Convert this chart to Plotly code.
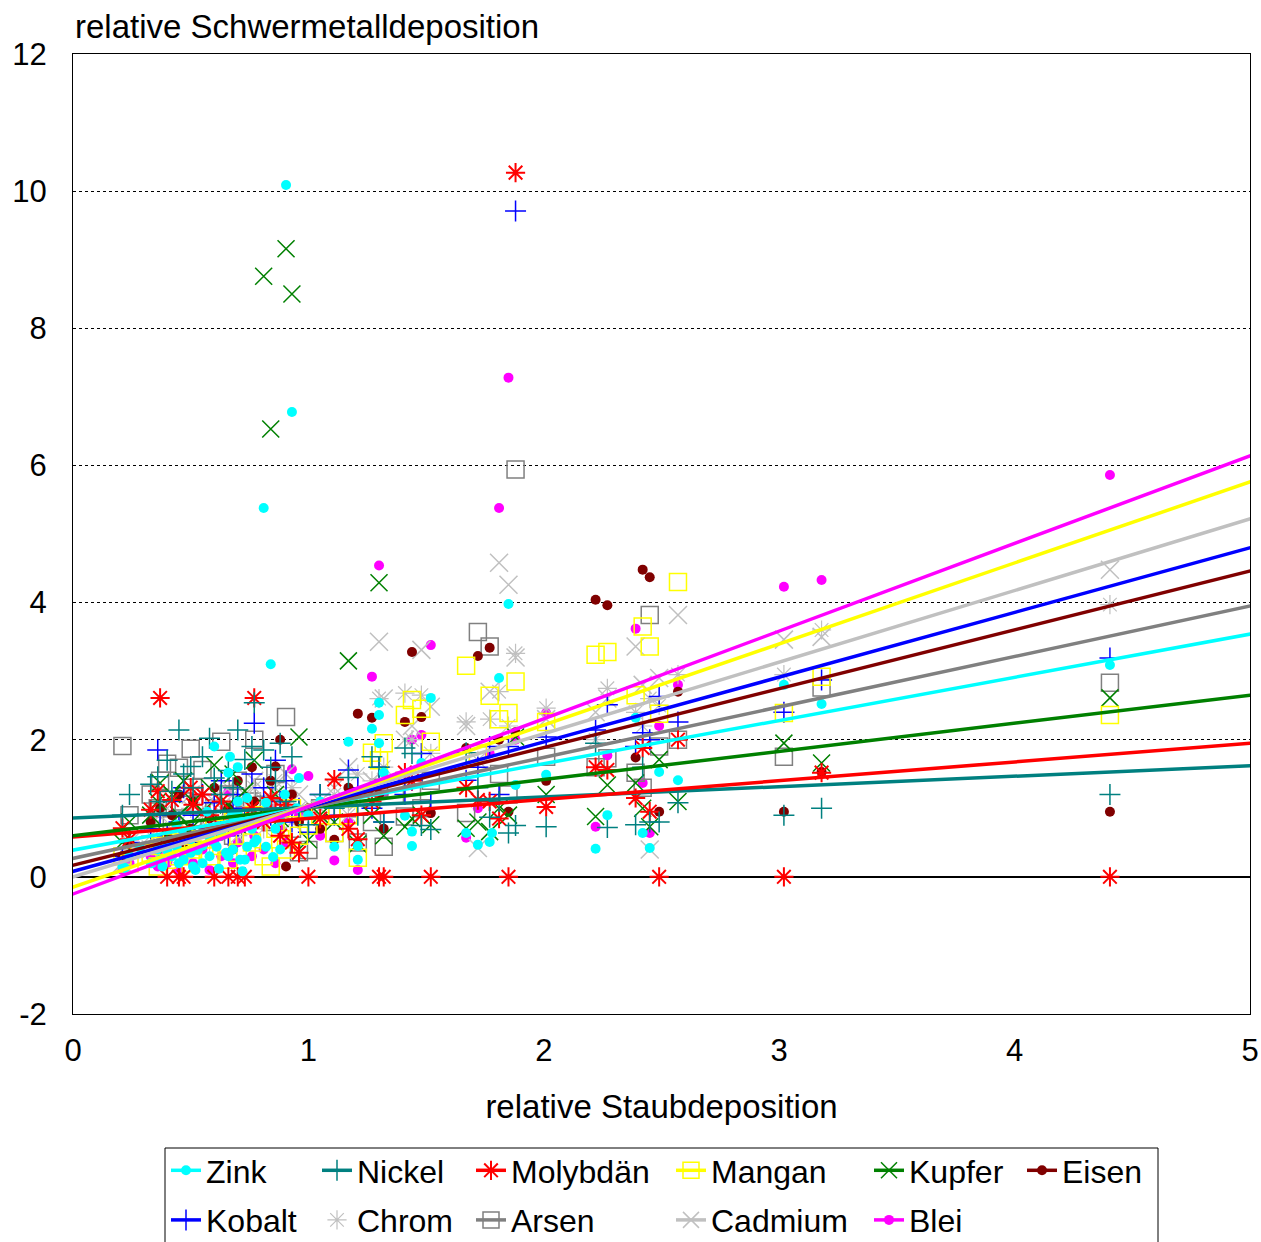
import plotly.graph_objects as go

# ---------------- data ----------------
dust = [0.21, 0.24, 0.33, 0.36, 0.37, 0.40, 0.42, 0.45, 0.47, 0.50,
        0.51, 0.55, 0.58, 0.60, 0.63, 0.66, 0.68, 0.70, 0.73, 0.76,
        0.77, 0.81, 0.84, 0.86, 0.88, 0.905, 0.93, 0.96, 1.00, 1.05,
        1.11, 1.17, 1.21, 1.27, 1.30, 1.32, 1.41, 1.44, 1.48, 1.52,
        1.67, 1.72, 1.77, 1.81, 1.85, 1.88, 2.01, 2.22, 2.27, 2.39,
        2.42, 2.45, 2.49, 2.57, 3.02, 3.18, 4.405]

zink = [0.15, 0.3, 0.2, 0.4, 0.25, 0.5, 0.3, 0.2, 0.6, 0.35,
        0.15, 0.45, 0.3, 0.5, 0.6, 0.3, 0.4, 0.9, 0.25, 0.8,
        0.5, 5.38, 3.1, 0.7, 0.4, 10.09, 6.78, 1.44, 0.9, 1.1,
        0.44, 1.97, 0.45, 2.16, 2.54, 1.52, 0.89, 0.66, 1.66, 2.61,
        0.64, 0.47, 0.51, 2.9, 3.98, 1.34, 1.49, 0.41, 0.9, 2.32,
        0.64, 0.42, 1.53, 1.41, 2.8, 2.52, 3.09]
zink_extra_x = [0.60, 0.667, 0.70, 0.66, 0.74, 0.70, 0.82, 0.88, 0.675, 0.68,
                0.44, 0.40, 0.44, 0.47, 0.53, 0.55, 0.38, 0.61, 0.65, 0.71,
                0.74, 0.78, 0.82, 0.85, 0.285, 0.22, 0.335, 0.63, 0.58, 0.50,
                0.57, 0.76, 0.90, 0.95, 1.30, 1.30, 1.44, 1.21, 1.78, 0.52,
                0.62, 0.72]
zink_extra_y = [1.9, 1.75, 1.6, 1.52, 1.15, 1.1, 1.08, 0.83, 0.9, 0.79,
                0.76, 0.39, 0.44, 0.25, 0.39, 0.2, 0.15, 0.44, 0.35, 0.25,
                0.44, 0.54, 0.44, 0.29, 0.42, 0.13, 0.2, 0.64, 0.58, 0.55,
                0.95, 0.7, 1.2, 1.0, 2.36, 1.95, 0.45, 0.25, 0.64, 0.1,
                0.12, 0.08]

nickel = [0.9, 1.2, 1.35, 1.46, 1.1, 1.7, 1.25, 2.14, 1.5, 1.61,
          1.3, 1.75, 2.02, 1.44, 1.2, 1.55, 1.3, 2.14, 1.71, 1.9,
          2.54, 1.85, 1.6, 1.4, 1.95, 1.1, 1.75, 0.95, 0.76, 1.2,
          1.0, 1.45, 0.9, 1.75, 1.6, 0.8, 1.88, 1.8, 0.75, 0.69,
          1.81, 1.3, 0.87, 1.1, 0.64, 0.75, 0.73, 1.95, 0.72, 0.76,
          1.6, 0.8, 0.8, 1.08, 0.9, 1.0, 1.2]

molybdaen = [0.71, 0.55, 0.98, 1.25, 2.61, 0.0, 1.12, 0.0, 0.0, 1.3,
             1.05, 1.2, 0.9, 0.0, 1.1, 0.0, 0.85, 0.0, 0.0, 1.0,
             2.61, 0.8, 1.15, 0.95, 0.6, 1.05, 0.5, 0.35, 0.0, 0.85,
             1.42, 0.7, 0.55, 1.1, 0.0, 0.0, 1.52, 1.4, 0.9, 0.0,
             1.3, 1.12, 1.1, 0.85, 0.0, 10.27, 1.02, 1.6, 1.56, 1.15,
             1.88, 0.95, 0.0, 2.0, 0.0, 1.52, 0.0]

mangan = [0.3, 0.2, 0.35, 0.15, 0.45, 0.25, 0.5, 0.3, 0.6, 0.2,
          0.4, 0.55, 0.3, 0.7, 0.45, 0.25, 0.8, 0.35, 0.6, 0.5,
          0.9, 0.3, 0.15, 0.7, 0.55, 0.4, 1.0, 0.6, 0.75, 0.9,
          0.64, 0.9, 0.28, 1.81, 1.7, 1.95, 2.36, 2.58, 2.45, 1.97,
          3.08, 1.8, 2.64, 2.3, 2.39, 2.85, 2.26, 3.24, 3.28, 2.65,
          3.65, 3.36, 2.38, 4.3, 2.39, 2.92, 2.36]

kupfer = [0.5, 0.8, 0.9, 1.1, 1.37, 0.6, 1.2, 0.9, 1.4, 0.7,
          1.1, 0.95, 1.3, 1.63, 0.8, 1.05, 1.5, 0.75, 1.25, 1.0,
          1.7, 8.76, 6.53, 1.2, 0.85, 9.16, 8.5, 2.04, 0.54, 0.9,
          0.8, 3.15, 0.48, 0.9, 4.29, 0.6, 0.73, 0.85, 0.9, 0.76,
          0.71, 0.8, 0.66, 1.0, 0.9, 2.04, 1.2, 0.88, 1.34, 1.37,
          1.0, 0.73, 1.71, 1.1, 1.95, 1.66, 2.61]

eisen = [0.3, 0.5, 0.8, 0.4, 1.0, 0.6, 0.9, 1.2, 0.5, 0.7,
         1.1, 0.45, 0.85, 1.3, 0.6, 1.0, 0.4, 1.4, 0.75, 1.6,
         1.1, 0.9, 1.4, 1.61, 2.0, 0.15, 1.2, 0.8, 1.0, 0.7,
         0.54, 1.3, 2.38, 2.32, 1.2, 0.7, 2.26, 3.28, 2.33, 0.93,
         1.88, 3.22, 3.34, 2.0, 0.95, 2.11, 1.4, 4.04, 3.96, 1.74,
         4.48, 4.37, 0.95, 2.7, 0.95, 1.53, 0.95]

kobalt = [0.3, 0.5, 0.7, 1.85, 0.9, 0.6, 1.1, 0.8, 1.3, 0.5,
          0.9, 1.2, 0.7, 1.08, 1.4, 0.6, 1.0, 1.2, 0.8, 1.5,
          2.24, 1.3, 0.9, 1.7, 1.1, 1.4, 0.8, 1.0, 0.65, 1.2,
          0.9, 1.56, 1.3, 1.0, 1.6, 0.8, 1.2, 1.41, 1.8, 1.1,
          1.41, 1.6, 1.9, 1.2, 1.9, 9.71, 2.04, 2.14, 2.51, 1.9,
          2.1, 2.0, 2.63, 2.26, 2.4, 2.87, 3.19]

chrom = [0.2, 0.4, 0.6, 0.5, 0.9, 0.3, 0.7, 0.8, 0.4, 1.0,
         0.6, 0.9, 0.5, 1.1, 0.7, 0.8, 1.2, 0.6, 1.0, 0.9,
         1.3, 0.7, 1.1, 1.4, 0.8, 1.2, 1.3, 1.0, 0.9, 1.1,
         1.2, 0.9, 1.5, 1.4, 2.6, 1.6, 2.68, 2.0, 2.65, 1.8,
         2.26, 1.7, 2.3, 2.7, 2.2, 3.26, 2.46, 2.0, 2.75, 2.4,
         2.2, 2.6, 2.5, 2.95, 2.95, 3.6, 3.97]

arsen = [1.91, 0.9, 1.2, 1.0, 1.4, 1.65, 0.8, 1.59, 1.1, 1.87,
         1.3, 1.56, 0.7, 1.0, 1.97, 1.2, 0.6, 1.4, 0.9, 1.1,
         2.0, 1.3, 0.8, 1.5, 1.0, 2.33, 0.7, 0.36, 0.39, 1.0,
         0.64, 1.0, 0.5, 0.8, 1.3, 0.44, 0.88, 1.2, 1.0, 1.4,
         0.93, 3.57, 3.36, 1.5, 1.2, 5.94, 1.75, 1.6, 1.73, 1.52,
         1.3, 3.82, 1.9, 2.0, 1.75, 2.76, 2.83]

cadmium = [0.2, 0.5, 0.4, 0.8, 0.6, 1.0, 0.5, 0.9, 0.7, 1.2,
           0.6, 0.8, 1.1, 0.9, 0.7, 1.3, 0.8, 1.0, 1.2, 0.9,
           1.4, 1.1, 1.0, 1.3, 1.1, 1.5, 0.8, 1.2, 0.9, 1.0,
           1.3, 1.6, 1.1, 1.4, 3.43, 2.6, 2.0, 2.2, 3.31, 2.48,
           2.2, 0.42, 2.7, 4.58, 4.26, 3.2, 2.3, 2.4, 2.6, 3.36,
           2.8, 0.4, 2.9, 3.82, 3.46, 3.5, 4.48]

blei = [0.1, 0.2, 0.3, 0.15, 0.4, 0.2, 0.5, 0.1, 0.3, 0.6,
        0.2, 0.4, 0.1, 0.7, 0.3, 1.24, 0.2, 0.5, 0.8, 0.3,
        0.6, 0.4, 1.0, 0.2, 0.7, 0.5, 1.57, 0.9, 1.47, 0.6,
        0.24, 0.8, 0.1, 2.92, 4.54, 1.2, 1.5, 2.0, 2.07, 3.38,
        0.57, 1.0, 1.8, 5.38, 7.28, 2.0, 2.39, 0.73, 1.77, 3.62,
        1.37, 0.64, 2.2, 2.8, 4.23, 4.33, 5.86]

metals = ["Zink", "Nickel", "Molybdän", "Mangan", "Kupfer", "Eisen",
          "Kobalt", "Chrom", "Arsen", "Cadmium", "Blei"]
values = [zink, nickel, molybdaen, mangan, kupfer, eisen,
          kobalt, chrom, arsen, cadmium, blei]
# linear trend lines, value at dust = 0 and dust = 5 (Chrom has none)
trend_at_0 = [0.39, 0.86, 0.58, -0.15, 0.60, 0.17, 0.08, None, 0.27, 0.00, -0.25]
trend_at_5 = [3.54, 1.62, 1.95, 5.76, 2.65, 4.46, 4.80, None, 3.95, 5.22, 6.14]

y_tickvals = [-2, 0, 2, 4, 6, 8, 10, 12]
y_ticktext = ["-2", "0", "2", "4", "6", "8", "10", "12"]

# ---------------- styles ----------------
colors = {"Zink": "#00FFFF", "Nickel": "#008080", "Molybdän": "#FF0000",
          "Mangan": "#FFFF00", "Kupfer": "#008000", "Eisen": "#800000",
          "Kobalt": "#0000FF", "Chrom": "#C0C0C0", "Arsen": "#808080",
          "Cadmium": "#C0C0C0", "Blei": "#FF00FF"}
symbols = {"Zink": ("circle", 10, 0), "Nickel": ("cross-thin-open", 15, 1.5),
           "Molybdän": ("asterisk-open", 16, 2), "Mangan": ("square-open", 17, 1.5),
           "Kupfer": ("x-thin-open", 17, 1.5), "Eisen": ("circle", 10, 0),
           "Kobalt": ("cross-thin-open", 15, 1.5), "Chrom": ("asterisk-open", 16, 1.2),
           "Arsen": ("square-open", 17, 1.5), "Cadmium": ("x-thin-open", 18, 1.5),
           "Blei": ("circle", 10, 0)}
legend_of = {"Zink": "legend", "Kobalt": "legend", "Nickel": "legend2", "Chrom": "legend2",
             "Molybdän": "legend3", "Arsen": "legend3", "Mangan": "legend4",
             "Cadmium": "legend4", "Kupfer": "legend5", "Blei": "legend5", "Eisen": "legend6"}
legend_rank = {"Zink": 1, "Kobalt": 2, "Nickel": 1, "Chrom": 2, "Molybdän": 1, "Arsen": 2,
               "Mangan": 1, "Cadmium": 2, "Kupfer": 1, "Blei": 2, "Eisen": 1}

FONT = "Liberation Sans, Arial, sans-serif"


def marker_for(name):
    sym, size, lw = symbols[name]
    c = colors[name]
    return dict(symbol=sym, size=size, color=c, line=dict(width=lw, color=c))


fig = go.Figure()

# scatter points (Zink drawn last so it sits on top as in the original)
draw_order = ["Blei", "Cadmium", "Arsen", "Chrom", "Kobalt", "Eisen", "Kupfer",
              "Mangan", "Molybdän", "Nickel", "Zink"]
for name in draw_order:
    vals = values[metals.index(name)]
    xs = [x for x, v in zip(dust, vals) if v is not None]
    ys = [v for v in vals if v is not None]
    if name == "Zink":
        xs = xs + zink_extra_x
        ys = ys + zink_extra_y
    has_trend = trend_at_0[metals.index(name)] is not None
    fig.add_trace(go.Scatter(
        x=xs, y=ys, mode="markers", name=name, marker=marker_for(name),
        legendgroup=name, showlegend=not has_trend,
        legend=legend_of[name], legendrank=legend_rank[name],
        hoverinfo="x+y+name"))

# trend lines (extended past the axis range so their markers are clipped away)
line_order = ["Nickel", "Molybdän", "Kupfer", "Zink", "Arsen", "Eisen", "Kobalt",
              "Cadmium", "Mangan", "Blei"]
for name in line_order:
    i = metals.index(name)
    a, b = trend_at_0[i], trend_at_5[i]
    slope = (b - a) / 5.0
    xs = [-1.0, 6.0]
    ys = [a + slope * x for x in xs]
    fig.add_trace(go.Scatter(
        x=xs, y=ys, mode="lines+markers", name=name,
        line=dict(color=colors[name], width=3.5), marker=marker_for(name),
        legendgroup=name, legend=legend_of[name], legendrank=legend_rank[name],
        hoverinfo="skip"))

# ---------------- layout ----------------
L, R, T, B = 73, 11, 54, 228
W, H = 1261, 1242
pw, ph = W - L - R, H - T - B


def px_x(px):
    return (px - L) / pw


def px_y(py):
    return (H - B - py) / ph


legend_cols = {"legend": 207, "legend2": 358, "legend3": 512, "legend4": 712,
               "legend5": 910, "legend6": 1063}
legend_font = dict(family=FONT, size=32, color="#000000")
for key, text_x in legend_cols.items():
    fig.update_layout(**{key: dict(
        x=px_x(text_x - 41), xanchor="left", y=px_y(1143), yanchor="top",
        orientation="v", traceorder="grouped", tracegroupgap=5,
        font=legend_font, bgcolor="rgba(0,0,0,0)", borderwidth=0,
        itemsizing="trace")})

fig.update_layout(
    width=W, height=H,
    margin=dict(l=L, r=R, t=T, b=B, pad=0, autoexpand=False),
    paper_bgcolor="#FFFFFF", plot_bgcolor="#FFFFFF",
    font=dict(family=FONT, size=32, color="#000000"),
    xaxis=dict(range=[0, 5], dtick=1, showgrid=False, zeroline=False,
               showline=True, linecolor="#000000", linewidth=1, mirror=True,
               ticks="", tickfont=dict(size=31), ticklabelstandoff=9,
               automargin=False,
               title=dict(text="relative Staubdeposition", standoff=27,
                          font=dict(size=33))),
    yaxis=dict(range=[-2, 12], tickmode="array", tickvals=y_tickvals,
               ticktext=y_ticktext, showgrid=True, gridcolor="#000000",
               gridwidth=1, griddash="3px,3px", zeroline=True,
               zerolinecolor="#000000", zerolinewidth=1.5,
               showline=True, linecolor="#000000", linewidth=1, mirror=True,
               ticks="", tickfont=dict(size=31), ticklabelstandoff=19,
               automargin=False),
    annotations=[dict(text="relative Schwermetalldeposition", x=0, xref="paper",
                      xanchor="left", y=1, yref="paper", yanchor="bottom",
                      yshift=7, showarrow=False, font=dict(size=33))],
    shapes=[dict(type="rect", xref="paper", yref="paper",
                 x0=px_x(165), x1=px_x(1158), y0=px_y(1148), y1=px_y(1300),
                 line=dict(color="#000000", width=1), fillcolor="rgba(0,0,0,0)")],
    hovermode="closest",
)

fig.write_html("out.html")
